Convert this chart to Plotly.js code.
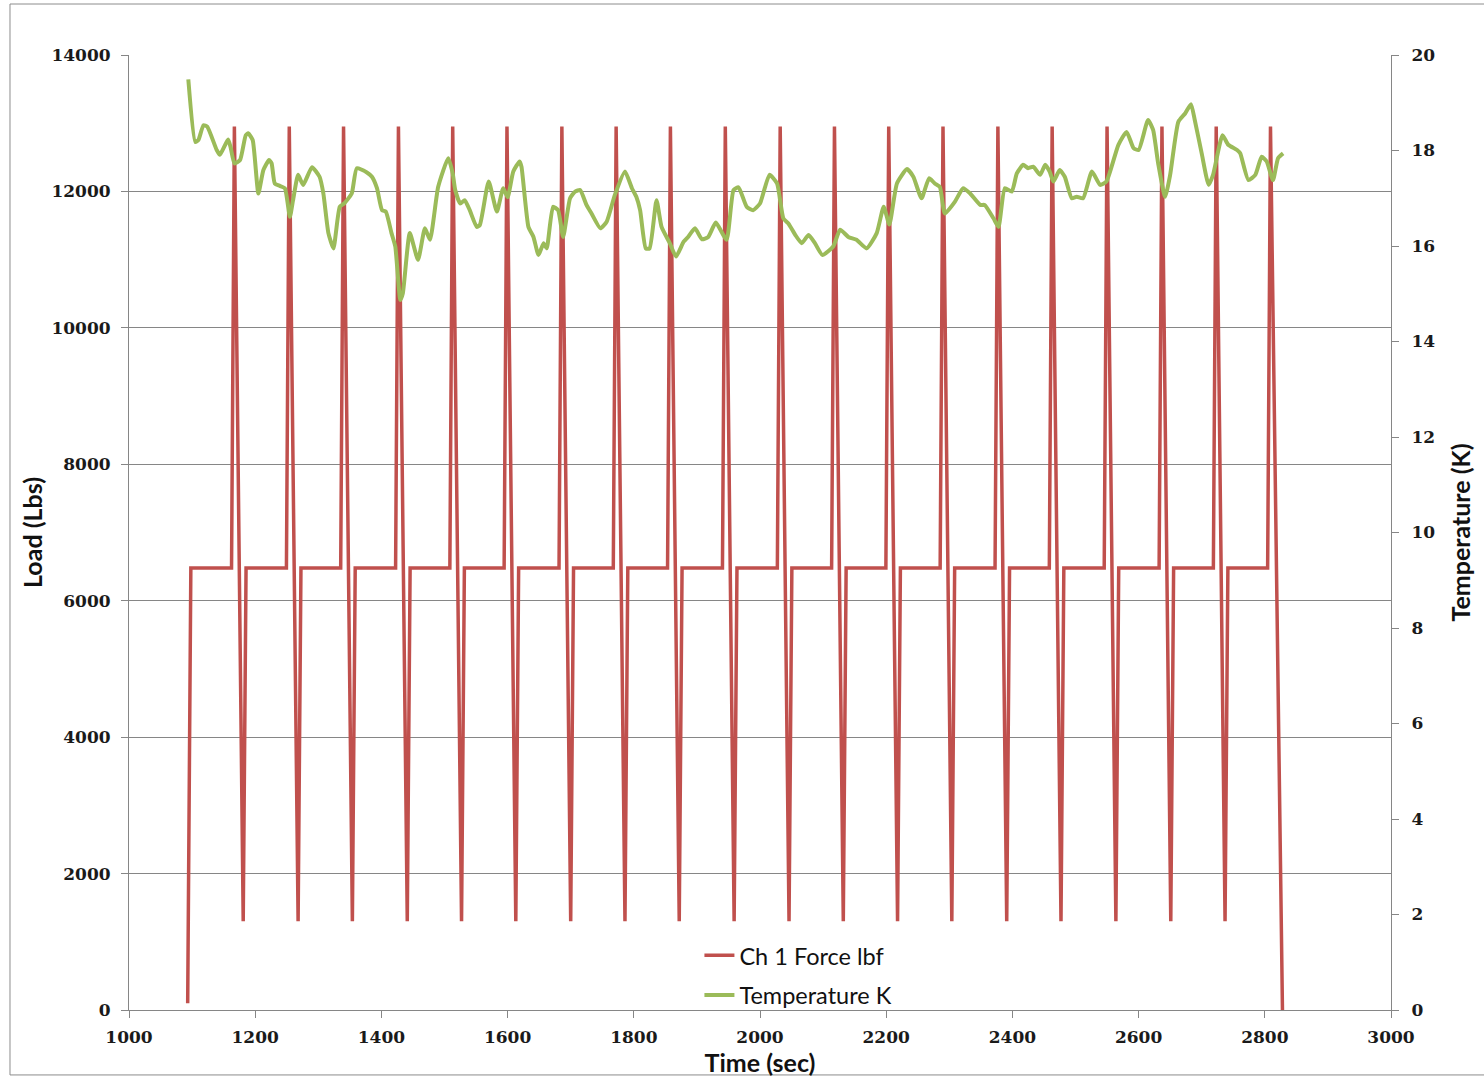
<!DOCTYPE html>
<html>
<head>
<meta charset="utf-8">
<script src="https://cdn.plot.ly/plotly-3.0.1.min.js"></script>
<style>html,body{margin:0;padding:0;background:#fff;}#chart{width:1484px;height:1079px;}</style>
</head>
<body>
<div id="chart"></div>
<script>
// Ch 1 Force lbf (time in sec, load in lbs)
var forceTime = [1093, 1098,
  1162.5, 1167, 1181, 1185.5,
  1249.5, 1254, 1268, 1272.5,
  1335.5, 1340, 1354, 1358.5,
  1422.5, 1427, 1441, 1445.5,
  1508.5, 1513, 1527, 1531.5,
  1594.5, 1599, 1613, 1617.5,
  1681.5, 1686, 1700, 1704.5,
  1767.5, 1772, 1786, 1790.5,
  1853.5, 1858, 1872, 1876.5,
  1940.5, 1945, 1959, 1963.5,
  2027.5, 2032, 2046, 2050.5,
  2113.5, 2118, 2132, 2136.5,
  2199.5, 2204, 2218, 2222.5,
  2285.5, 2290, 2304, 2308.5,
  2372.5, 2377, 2391, 2395.5,
  2458.5, 2463, 2477, 2481.5,
  2545.5, 2550, 2564, 2568.5,
  2632.5, 2637, 2651, 2655.5,
  2718.5, 2723, 2737, 2741.5,
  2804.5, 2809, 2828];
var forceLoad = [100, 6480,
  6480, 12950, 1300, 6480,
  6480, 12950, 1300, 6480,
  6480, 12950, 1300, 6480,
  6480, 12950, 1300, 6480,
  6480, 12950, 1300, 6480,
  6480, 12950, 1300, 6480,
  6480, 12950, 1300, 6480,
  6480, 12950, 1300, 6480,
  6480, 12950, 1300, 6480,
  6480, 12950, 1300, 6480,
  6480, 12950, 1300, 6480,
  6480, 12950, 1300, 6480,
  6480, 12950, 1300, 6480,
  6480, 12950, 1300, 6480,
  6480, 12950, 1300, 6480,
  6480, 12950, 1300, 6480,
  6480, 12950, 1300, 6480,
  6480, 12950, 1300, 6480,
  6480, 12950, 1300, 6480,
  6480, 12950, 0];

// Temperature K
var tempTime = [1094,1105,1110,1118,1124,1139,1144,1157,1161,1167,1176,1185,1189,1196,1205,1213,1222,1226,1231,1239,1247,1255,1260,1268,1276,1290,1302,1308,1316,1324,1334,1341,1353,1361,1377,1385,1393,1401,1407,1416,1422,1430,1434,1445,1458,1469,1477,1490,1506,1513,1517,1525,1532,1540,1551,1556,1570,1583,1593,1600,1609,1619,1622,1633,1641,1649,1657,1662,1672,1680,1688,1699,1707,1715,1725,1733,1747,1757,1770,1786,1797,1804,1810,1819,1825,1836,1844,1857,1867,1879,1886,1897,1908,1918,1930,1947,1958,1966,1979,1989,2000,2015,2027,2037,2045,2056,2066,2077,2087,2099,2116,2127,2140,2153,2169,2185,2196,2205,2217,2233,2243,2256,2268,2277,2285,2293,2309,2322,2333,2349,2356,2370,2378,2388,2399,2407,2417,2425,2433,2444,2452,2459,2465,2475,2483,2494,2502,2512,2526,2539,2549,2568,2581,2592,2600,2615,2623,2631,2642,2650,2663,2674,2683,2689,2700,2711,2718,2733,2742,2756,2761,2774,2785,2795,2803,2813,2821,2829];
var tempK = [19.49,18.18,18.22,18.53,18.50,18.01,17.91,18.23,18.07,17.73,17.80,18.32,18.36,18.22,17.10,17.59,17.80,17.73,17.31,17.26,17.21,16.61,16.96,17.49,17.28,17.65,17.45,17.10,16.27,15.95,16.82,16.89,17.10,17.63,17.54,17.45,17.21,16.75,16.72,16.27,15.99,14.87,15.01,16.27,15.71,16.37,16.13,17.24,17.84,17.52,17.17,16.89,16.96,16.75,16.40,16.44,17.35,16.72,17.21,17.02,17.56,17.77,17.66,16.40,16.19,15.81,16.06,15.95,16.82,16.75,16.19,17.00,17.14,17.17,16.86,16.68,16.37,16.51,17.07,17.56,17.21,17.03,16.75,15.95,15.95,16.96,16.40,16.06,15.78,16.09,16.19,16.37,16.14,16.19,16.49,16.13,17.17,17.23,16.82,16.75,16.89,17.49,17.31,16.58,16.47,16.23,16.06,16.23,16.06,15.81,15.99,16.34,16.19,16.13,15.95,16.27,16.82,16.45,17.31,17.61,17.45,17.00,17.42,17.31,17.24,16.68,16.93,17.21,17.10,16.86,16.86,16.58,16.40,17.21,17.14,17.52,17.70,17.63,17.66,17.49,17.70,17.56,17.35,17.59,17.45,17.00,17.03,17.00,17.56,17.28,17.35,18.12,18.39,18.05,18.01,18.64,18.43,17.73,17.03,17.49,18.60,18.78,18.97,18.64,17.94,17.28,17.49,18.32,18.12,18.01,17.94,17.38,17.49,17.87,17.77,17.38,17.84,17.94];

var xTicks = [1000,1200,1400,1600,1800,2000,2200,2400,2600,2800,3000];
var loadTicks = [0,2000,4000,6000,8000,10000,12000,14000];
var tempTicks = [0,2,4,6,8,10,12,14,16,18,20];

var tickFont = {family: 'DejaVu Serif', size: 17, color: '#1a1a1a', weight: 'bold'};
var titleFont = {family: 'Lato', size: 25, color: '#111', weight: 'bold'};
var gray = '#868686';

var traces = [
  {x: forceTime, y: forceLoad, type: 'scatter', mode: 'lines', name: 'Ch 1 Force lbf',
   line: {color: '#C0504D', width: 3.5}, yaxis: 'y', legendgroup: 'a'},
  {x: tempTime, y: tempK, type: 'scatter', mode: 'lines', name: 'Temperature K',
   line: {color: '#9BBB59', width: 4, shape: 'spline', smoothing: 0.5}, yaxis: 'y2', legendgroup: 'b'}
];

var layout = {
  width: 1484, height: 1079,
  margin: {l: 129, r: 93, t: 55, b: 69},
  paper_bgcolor: '#ffffff', plot_bgcolor: '#ffffff',
  showlegend: true,
  legend: {x: 0.452, y: 0.08, xanchor: 'left', yanchor: 'top', bgcolor: 'rgba(0,0,0,0)',
           font: {family: 'Lato', size: 23.5, color: '#111'}, traceorder: 'grouped', tracegroupgap: 6},
  xaxis: {range: [1000, 3000], tickvals: xTicks, ticktext: xTicks.map(String), ticks: 'outside', ticklen: 7,
          tickcolor: gray, showgrid: false, showline: true, linecolor: gray, linewidth: 1, zeroline: false,
          ticklabelstandoff: 5,
          tickfont: tickFont, title: {text: 'Time (sec)', font: titleFont, standoff: 2}},
  yaxis: {range: [0, 14000], tickvals: loadTicks, ticktext: loadTicks.map(String), ticks: 'outside', ticklen: 7,
          tickcolor: gray, showgrid: true, gridcolor: gray, gridwidth: 1, showline: true, linecolor: gray,
          zeroline: false, ticklabelstandoff: 7,
          tickfont: tickFont, title: {text: 'Load (Lbs)', font: titleFont, standoff: 1}},
  yaxis2: {range: [0, 20], tickvals: tempTicks, ticktext: tempTicks.map(String), overlaying: 'y', side: 'right',
           ticks: 'outside', ticklen: 7, tickcolor: gray, showgrid: false, showline: true, linecolor: gray,
           zeroline: false, ticklabelstandoff: 9,
           tickfont: tickFont, title: {text: 'Temperature (K)', font: titleFont, standoff: 18}},
  shapes: [{type: 'rect', xref: 'paper', yref: 'paper', x0: -0.0943, x1: 1.08, y0: -0.068, y1: 1.0534,
            line: {color: '#8c8c8c', width: 1}, layer: 'below'}]
};

Plotly.newPlot('chart', traces, layout, {displayModeBar: false, staticPlot: true});
</script>
</body>
</html>
